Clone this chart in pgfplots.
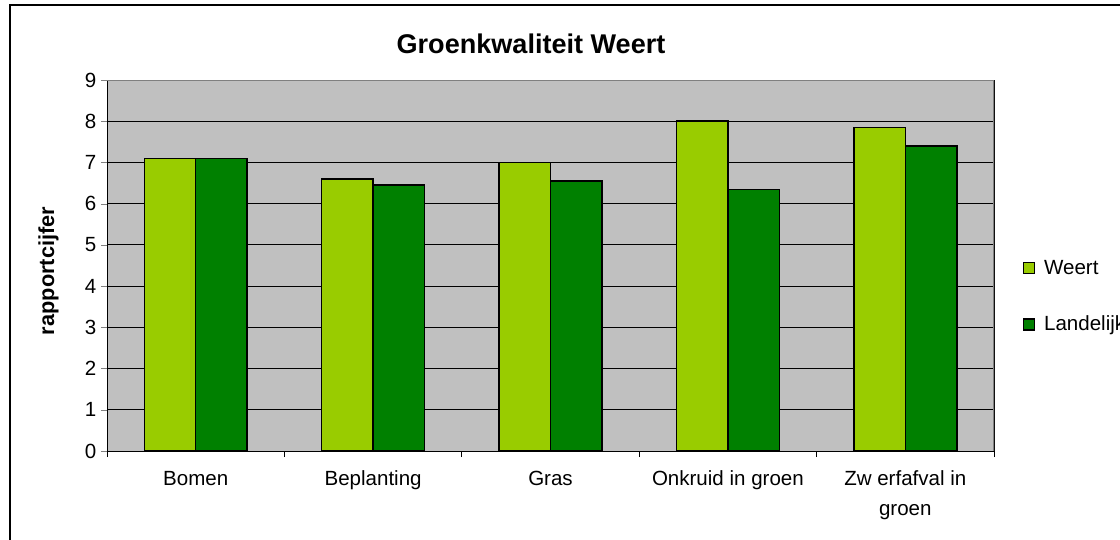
\documentclass[border=0pt]{standalone}
\usepackage{pgfplots}
\pgfplotsset{compat=1.18}
\usepackage{fontspec}
\setmainfont{Liberation Sans}
\definecolor{weert}{HTML}{99CC00}
\definecolor{land}{HTML}{008000}
\definecolor{plotbg}{HTML}{C0C0C0}
\begin{document}
\begin{tikzpicture}[x=0.75pt,y=0.75pt]
\begin{axis}[
  at={(80.25pt,66pt)}, anchor=south west,
  scale only axis,
  width=665.25pt, height=278.25pt,
  xmin=-0.5, xmax=4.5, ymin=0, ymax=9,
  ybar=0pt, bar width=38.6pt,
  axis background/.style={fill=plotbg},
  axis line style={draw=black, line width=0.75pt},
  xtick={0,1,2,3,4},
  xticklabels={Bomen,Beplanting,Gras,Onkruid in groen,{Zw erfafval in\\groen}},
  minor xtick={-0.5,0.5,1.5,2.5,3.5,4.5},
  major x tick style={draw=none},
  minor x tick style={draw=black, line width=0.75pt},
  ytick={0,1,...,9},
  tick align=outside,
  major tick length=4.5pt, minor tick length=4.5pt,
  xtick pos=bottom, ytick pos=left,
  ymajorgrids, major grid style={draw=black, line width=0.75pt},
  /pgf/number format/assume math mode=true,
  ticklabel style={font=\fontsize{15.4}{22.5}\selectfont},
  xticklabel style={align=center, yshift=-7pt},
  legend style={at={(1.032,0.523)}, anchor=north west, draw=none, fill=none,
    font=\fontsize{15.4}{18}\selectfont, row sep=26pt, column sep=5pt, inner sep=0pt,
    legend cell align=left},
  legend image code/.code={\draw[#1,draw=black,line width=0.9pt] (0pt,-4.1pt) rectangle (8.2pt,4.1pt);},
  every axis plot/.append style={draw=black, line width=1.1pt},
]
\addplot[ybar, fill=weert, draw=black, line width=1.1pt] coordinates {(0,7.1) (1,6.6) (2,7.0) (3,8.0) (4,7.85)};
\addplot[ybar, fill=land, draw=black, line width=1.1pt] coordinates {(0,7.1) (1,6.45) (2,6.55) (3,6.35) (4,7.4)};
\legend{Weert,Landelijk}
\draw[draw=gray, line width=0.9pt] (rel axis cs:0,1) -- (rel axis cs:1,1) -- (rel axis cs:1,0);
\end{axis}
\node[anchor=base, font=\bfseries\fontsize{20.3}{22}\selectfont] at (531,485) {Groenkwaliteit Weert};
\node[anchor=base, rotate=90, font=\bfseries\fontsize{16.3}{18}\selectfont] at (54,268) {rapportcijfer};
\draw[line width=1.5pt] (10,-20) -- (10,534) -- (1140,534);
\pgfresetboundingbox
\useasboundingbox (0,0) rectangle (1120,539);
\end{tikzpicture}
\end{document}
